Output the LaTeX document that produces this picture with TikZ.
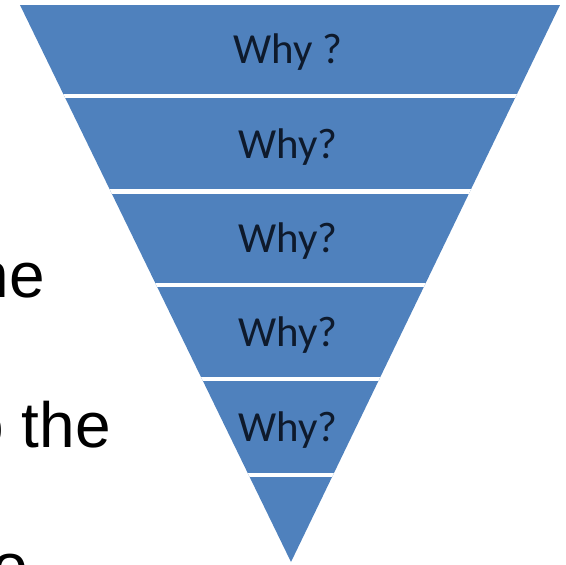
\documentclass[tikz,border=0pt]{standalone}
\usepackage{fontspec}
\setmainfont{Liberation Sans}
\newfontfamily\whyfont{Carlito}
\usepackage{tikz}
\usetikzlibrary{positioning}

\definecolor{whyblue}{HTML}{4F81BD}
\definecolor{whyink}{HTML}{0E1A2C}

\begin{document}
\begin{tikzpicture}[x=0.02cm, y=-0.02cm, node distance=1.886cm,
  why/.style={text=whyink, inner sep=0pt, font=\whyfont\fontsize{24.4}{29}\selectfont},
  side/.style={anchor=base east, inner sep=0pt, font=\fontsize{36.4}{44}\selectfont}]
  \useasboundingbox (0,0) rectangle (566,565);

  % funnel, cut into bands by white strips
  \begin{scope}
    \clip (20,5) -- (560,5) -- (291,562) -- cycle;
    \fill [whyblue] (0,0) rectangle (566,565);
    \foreach \y in {96,191.5,285,379,475}
      \draw [white, line width=2.3pt] (0,\y) -- (566,\y);
  \end{scope}

  \node (why1) [why] at (288,52.5) {Why ?};
  \node (why2) [why, below of=why1] {Why?};
  \node (why3) [why, below of=why2] {Why?};
  \node (why4) [why, below of=why3] {Why?};
  \node (why5) [why, below of=why4] {Why?};

  % slide text running off the left edge
  \begin{scope}
    \clip (0,0) rectangle (566,565);
    \node (line1) [side] at (45,297) {ne};
    \node (line2) [side] at (111,447) {o the};
    \node (line3) [side] at (28,588) {o};
  \end{scope}
\end{tikzpicture}
\end{document}
